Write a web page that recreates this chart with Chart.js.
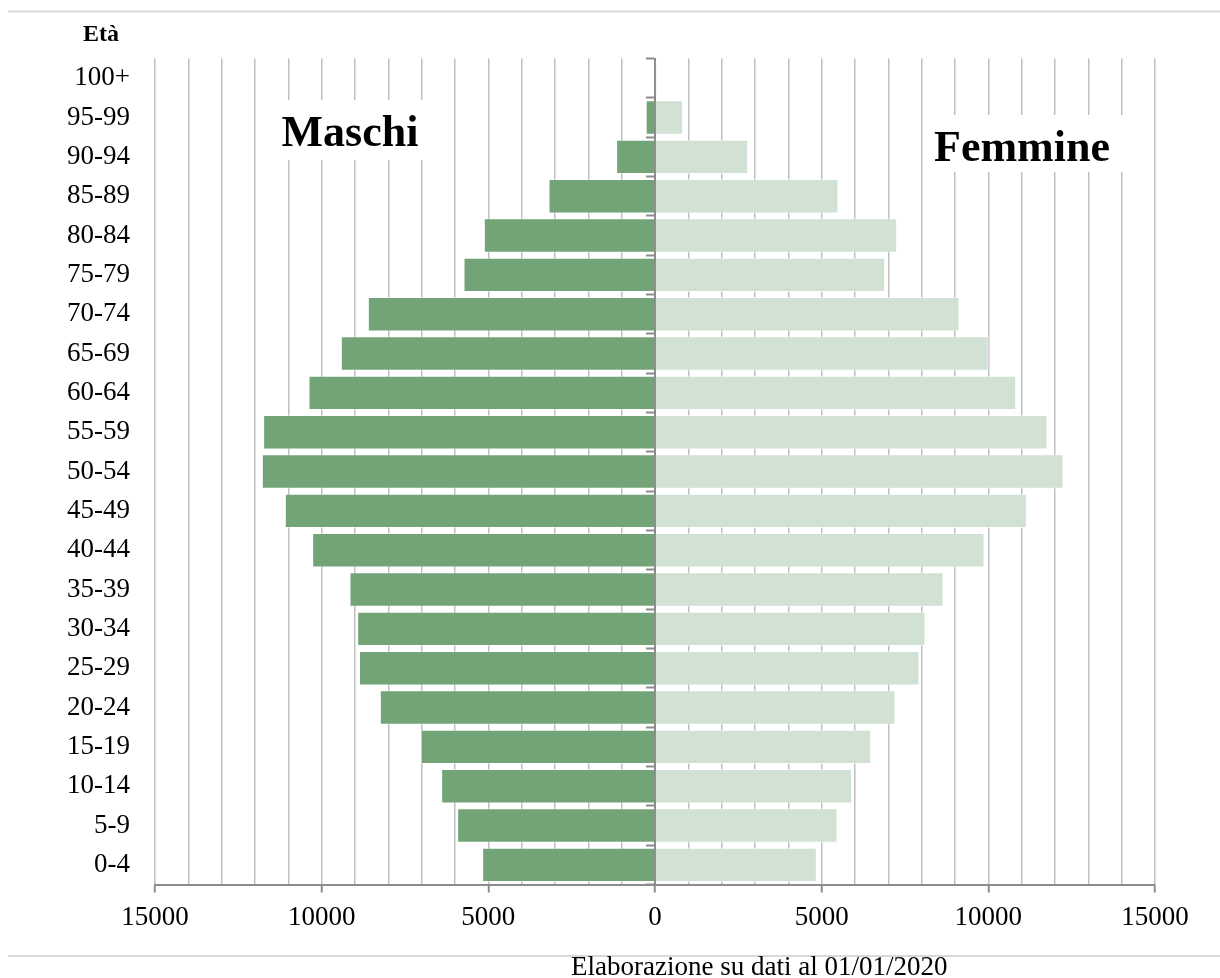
<!DOCTYPE html>
<html>
<head>
<meta charset="utf-8">
<script src="https://cdn.jsdelivr.net/npm/chart.js@4"></script>
<style>
  html, body { margin: 0; padding: 0; background: #ffffff; }
  #wrap { position: relative; width: 1220px; height: 978px; }
</style>
</head>
<body>
<div id="wrap"><canvas id="c"></canvas></div>
<script>
// Age classes, top to bottom
const ageLabels = ['100+','95-99','90-94','85-89','80-84','75-79','70-74','65-69','60-64','55-59',
                   '50-54','45-49','40-44','35-39','30-34','25-29','20-24','15-19','10-14','5-9','0-4'];
// Males (shown on the left, stored as negative values)
const maschi = [-10, -280, -1165, -3195, -5135, -5745, -8615, -9425, -10395, -11755,
                -11795, -11105, -10285, -9165, -8935, -8880, -8255, -7025, -6415, -5935, -5185];
// Females (shown on the right)
const femmine = [55, 845, 2795, 5505, 7265, 6905, 9135, 10010, 10835, 11775,
                 12255, 11155, 9885, 8655, 8115, 7935, 7215, 6485, 5915, 5475, 4855];
// x-axis range and tick steps
const xMin = -15000, xMax = 15000, gridStep = 1000, labelStep = 5000;

const serif = "'Liberation Serif', 'Times New Roman', serif";

const decorPlugin = {
  id: 'decor',
  beforeDatasetsDraw(chart) {
    const ctx = chart.ctx;
    ctx.save();
    // text boxes that hide the grid lines
    ctx.fillStyle = '#ffffff';
    ctx.fillRect(262, 100, 178, 60);
    ctx.fillRect(925, 115, 205, 57);
    ctx.fillStyle = '#000000';
    ctx.textAlign = 'center';
    ctx.textBaseline = 'alphabetic';
    ctx.font = "bold 44px " + serif;
    ctx.fillText('Maschi', 350, 146);
    ctx.fillText('Femmine', 1022, 161);
    ctx.restore();
  },
  afterDraw(chart) {
    const ctx = chart.ctx;
    ctx.save();
    ctx.strokeStyle = '#d9d9d9';
    ctx.lineWidth = 2;
    ctx.beginPath();
    ctx.moveTo(8, 11.5); ctx.lineTo(1220, 11.5);
    ctx.moveTo(8, 956); ctx.lineTo(1220, 956);
    ctx.stroke();
    ctx.fillStyle = '#000000';
    ctx.textAlign = 'center';
    ctx.textBaseline = 'alphabetic';
    ctx.font = "bold 24px " + serif;
    ctx.fillText('Età', 101, 41);
    ctx.textAlign = 'left';
    ctx.font = "27px " + serif;
    ctx.fillText('Elaborazione su dati al 01/01/2020', 571, 975);
    ctx.restore();
  }
};

new Chart(document.getElementById('c'), {
  type: 'bar',
  data: {
    labels: ageLabels,
    datasets: [
      { label: 'Maschi', data: maschi, backgroundColor: '#72a477', borderColor: 'rgba(255,255,255,0.45)', borderWidth: 1, borderSkipped: 'start' },
      { label: 'Femmine', data: femmine, backgroundColor: '#d1e1d3', borderColor: 'rgba(255,255,255,0.6)', borderWidth: 1, borderSkipped: 'start' }
    ]
  },
  options: {
    indexAxis: 'y',
    responsive: true,
    maintainAspectRatio: false,
    animation: false,
    barPercentage: 0.875,
    categoryPercentage: 1.0,
    layout: { padding: { top: 58.5, right: 65, left: 0, bottom: 43.5 } },
    plugins: { legend: { display: false }, tooltip: { enabled: false } },
    scales: {
      x: {
        type: 'linear',
        stacked: true,
        min: xMin, max: xMax,
        afterFit(s) { s.height = 50; },
        ticks: {
          stepSize: gridStep,
          autoSkip: false,
          maxRotation: 0,
          padding: 9,
          color: '#000000',
          font: { family: serif, size: 27 },
          callback: (v) => (v % labelStep === 0 ? String(Math.abs(v)) : '')
        },
        grid: {
          color: '#bfbfbf',
          lineWidth: 1.5,
          tickLength: 8,
          tickWidth: 2,
          tickColor: (c) => (c.tick && c.tick.value % labelStep === 0 ? '#8c8c8c' : 'rgba(0,0,0,0)')
        },
        border: { color: '#8c8c8c', width: 2 }
      },
      y: {
        type: 'category',
        stacked: true,
        position: 'left',
        afterFit(s) { s.width = 155; },
        ticks: {
          padding: 25,
          color: '#000000',
          font: { family: serif, size: 27 }
        },
        grid: { display: false, drawTicks: false },
        border: { display: false }
      },
      y2: {
        type: 'category',
        position: { x: 0 },
        offset: true,
        ticks: { display: false },
        grid: {
          offset: true,
          drawOnChartArea: false,
          tickLength: 8,
          tickColor: '#8c8c8c',
          tickWidth: 2
        },
        border: { color: '#8c8c8c', width: 2 }
      }
    }
  },
  plugins: [decorPlugin]
});
</script>
</body>
</html>
